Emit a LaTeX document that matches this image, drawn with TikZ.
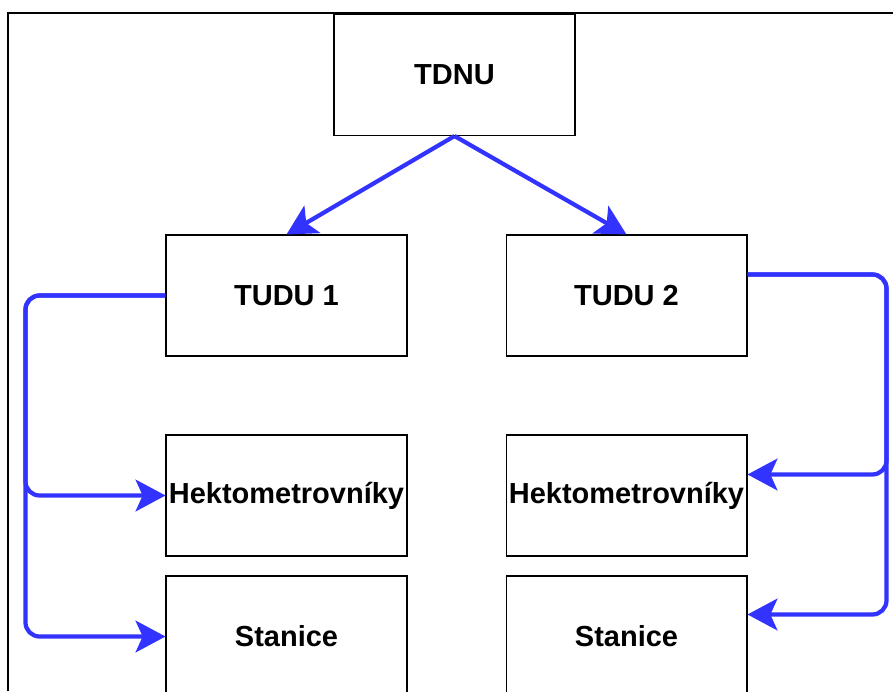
\documentclass[tikz,border=0pt]{standalone}
\usepackage{fontspec}
\setmainfont{Liberation Sans}
\usetikzlibrary{arrows.meta,calc}
\definecolor{linkblue}{RGB}{51,51,255}
\begin{document}
\begin{tikzpicture}[x=0.02cm,y=-0.02cm,
    box/.style={draw,line width=0.6pt,minimum width=4.82cm,minimum height=2.42cm,inner sep=0pt,
      font=\fontsize{16.5}{19}\selectfont\bfseries},
    link/.style={linkblue,line width=2.4pt,rounded corners=8pt,
      -{Stealth[length=17pt,width=18pt,inset=4pt]}}]
    \useasboundingbox (0,0) rectangle (893,691);
    \clip (0,0) rectangle (893,691);
    \draw[line width=0.9pt] (8,691) -- (8,13) -- (893,13);
    % boxes
    \node[box] (tdnu) at (454.5,75) {TDNU};
    \node[box] (tudu1) at (286.5,295.5) {TUDU 1};
    \node[box] (tudu2) at (626.5,295.5) {TUDU 2};
    \node[box] (hekto1) at (286.5,495.5) {Hektometrovníky};
    \node[box] (hekto2) at (626.5,495.5) {Hektometrovníky};
    \node[box] (stanice1) at (286.5,636.5) {Stanice};
    \node[box] (stanice2) at (626.5,636.5) {Stanice};
    % arrows
    \draw[link] (tdnu.south) -- (tudu1.north);
    \draw[link] (tdnu.south) -- (tudu2.north);
    \draw[link] (tudu1.west) -- ++(-140,0) |- (hekto1.west);
    \draw[link] (tudu1.west) -- ++(-140,0) |- (stanice1.west);
    \coordinate (out2) at ($(tudu2.north east)+(0,40)$);
    \coordinate (in2a) at ($(hekto2.north east)+(0,40)$);
    \coordinate (in2b) at ($(stanice2.north east)+(0,39)$);
    \draw[link] (out2) -- ++(139,0) |- (in2a);
    \draw[link] (out2) -- ++(139,0) |- (in2b);
\end{tikzpicture}
\end{document}
